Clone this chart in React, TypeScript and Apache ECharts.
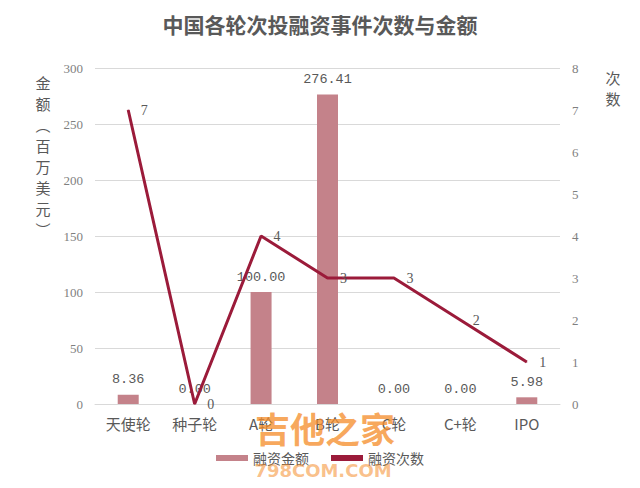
import React, { useEffect, useRef } from "react";
import * as echarts from "echarts";

const categories = ["天使轮", "种子轮", "A轮", "B轮", "C轮", "C+轮", "IPO"];
const amounts = [8.36, 0.0, 100.0, 276.41, 0.0, 0.0, 5.98];
const counts = [7, 0, 4, 3, 3, 2, 1];

const SERIF = "'Liberation Serif', 'Noto Sans CJK SC', serif";
const MONO = "'Liberation Mono', 'Noto Sans CJK SC', monospace";
const CJK = "'Noto Sans CJK SC', sans-serif";

export default function App() {
  const ref = useRef<HTMLDivElement>(null);
  useEffect(() => {
    document.body.style.margin = "0";
    if (!ref.current) return;
    const chart = echarts.init(ref.current, undefined, { renderer: "svg" });
    chart.setOption({
      animation: false,
      backgroundColor: "#fff",
      title: {
        text: "中国各轮次投融资事件次数与金额",
        left: "center",
        top: 8,
        textStyle: { fontSize: 21, fontWeight: "bold", color: "#595959", fontFamily: CJK },
      },
      grid: { left: 95, right: 80, top: 68, bottom: 84, outerBoundsMode: "none", containLabel: false },
      legend: {
        bottom: 18,
        left: "center",
        itemWidth: 32,
        itemHeight: 6,
        itemGap: 22,
        textStyle: { fontSize: 14, color: "#595959", fontFamily: CJK },
        data: [
          { name: "融资金额", icon: "rect" },
          { name: "融资次数", icon: "rect" },
        ],
      },
      xAxis: {
        type: "category",
        data: categories,
        axisTick: { show: false },
        axisLine: { lineStyle: { color: "#d9d9d9", width: 1 } },
        axisLabel: { fontSize: 15, color: "#595959", margin: 12, fontFamily: CJK },
      },
      yAxis: [
        {
          type: "value",
          min: 0,
          max: 300,
          interval: 50,
          axisLine: { show: false },
          axisTick: { show: false },
          splitLine: { lineStyle: { color: "#d9d9d9" } },
          axisLabel: { fontSize: 13, color: "#7f7f7f", margin: 12, fontFamily: SERIF },
        },
        {
          type: "value",
          min: 0,
          max: 8,
          interval: 1,
          axisLine: { show: false },
          axisTick: { show: false },
          splitLine: { show: false },
          axisLabel: { fontSize: 13, color: "#7f7f7f", margin: 12, fontFamily: SERIF },
        },
      ],
      series: [
        {
          name: "融资金额",
          type: "bar",
          yAxisIndex: 0,
          data: amounts,
          barWidth: 21,
          itemStyle: { color: "#c4828a" },
          label: {
            show: true,
            position: "top",
            distance: 8,
            color: "#595959",
            fontSize: 13.5,
            fontFamily: MONO,
            formatter: (p: any) => Number(p.value).toFixed(2),
          },
        },
        {
          name: "融资次数",
          type: "line",
          yAxisIndex: 1,
          data: counts,
          symbol: "circle",
          symbolSize: 1,
          showSymbol: true,
          lineStyle: { color: "#9b1b3a", width: 3 },
          itemStyle: { color: "#9b1b3a" },
          label: {
            show: true,
            position: "right",
            distance: 12,
            color: "#595959",
            fontSize: 14,
            fontFamily: SERIF,
          },
        },
      ],
      graphic: [
        {
          type: "text",
          x: 43,
          y: 72,
          style: {
            text: "金\n额\n︵\n百\n万\n美\n元\n︶",
            fontSize: 15,
            lineHeight: 21,
            align: "center",
            fill: "#595959",
            fontFamily: CJK,
          },
        },
        {
          type: "text",
          x: 613,
          y: 67,
          style: {
            text: "次\n数",
            fontSize: 15,
            lineHeight: 21,
            align: "center",
            fill: "#595959",
            fontFamily: CJK,
          },
        },
        {
          type: "text",
          x: 325,
          y: 410,
          z: 100,
          style: {
            text: "吉他之家",
            fontSize: 35,
            fontWeight: "bold",
            align: "center",
            fill: "rgba(245,140,40,0.75)",
            fontFamily: CJK,
          },
        },
        {
          type: "text",
          x: 323,
          y: 461,
          z: 100,
          style: {
            text: "798COM.COM",
            fontSize: 18,
            fontWeight: "bold",
            align: "center",
            fill: "rgba(245,140,40,0.55)",
            fontFamily: "'DejaVu Sans', sans-serif",
          },
        },
      ],
    });
    return () => chart.dispose();
  }, []);
  return <div ref={ref} style={{ width: 640, height: 488 }} />;
}
